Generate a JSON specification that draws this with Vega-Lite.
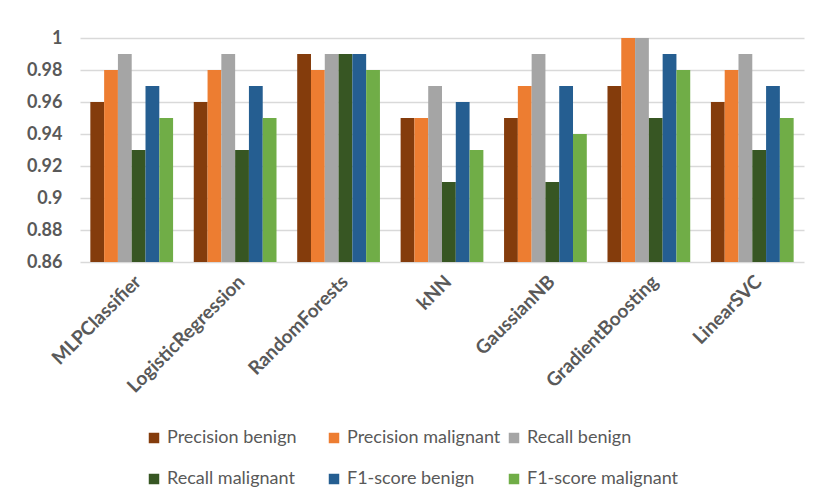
{
  "$schema": "https://vega.github.io/schema/vega-lite/v6.json",
  "width": 724,
  "height": 224,
  "autosize": {"type": "none"},
  "padding": {"left": 80, "top": 38, "right": 13, "bottom": 235},
  "background": "white",
  "config": {
    "view": {"stroke": null},
    "font": "Lato"
  },
  "data": {
    "values": [
      {"model": "MLPClassifier", "metric": "Precision benign", "value": 0.96},
      {"model": "MLPClassifier", "metric": "Precision malignant", "value": 0.98},
      {"model": "MLPClassifier", "metric": "Recall benign", "value": 0.99},
      {"model": "MLPClassifier", "metric": "Recall malignant", "value": 0.93},
      {"model": "MLPClassifier", "metric": "F1-score benign", "value": 0.97},
      {"model": "MLPClassifier", "metric": "F1-score malignant", "value": 0.95},
      {"model": "LogisticRegression", "metric": "Precision benign", "value": 0.96},
      {"model": "LogisticRegression", "metric": "Precision malignant", "value": 0.98},
      {"model": "LogisticRegression", "metric": "Recall benign", "value": 0.99},
      {"model": "LogisticRegression", "metric": "Recall malignant", "value": 0.93},
      {"model": "LogisticRegression", "metric": "F1-score benign", "value": 0.97},
      {"model": "LogisticRegression", "metric": "F1-score malignant", "value": 0.95},
      {"model": "RandomForests", "metric": "Precision benign", "value": 0.99},
      {"model": "RandomForests", "metric": "Precision malignant", "value": 0.98},
      {"model": "RandomForests", "metric": "Recall benign", "value": 0.99},
      {"model": "RandomForests", "metric": "Recall malignant", "value": 0.99},
      {"model": "RandomForests", "metric": "F1-score benign", "value": 0.99},
      {"model": "RandomForests", "metric": "F1-score malignant", "value": 0.98},
      {"model": "kNN", "metric": "Precision benign", "value": 0.95},
      {"model": "kNN", "metric": "Precision malignant", "value": 0.95},
      {"model": "kNN", "metric": "Recall benign", "value": 0.97},
      {"model": "kNN", "metric": "Recall malignant", "value": 0.91},
      {"model": "kNN", "metric": "F1-score benign", "value": 0.96},
      {"model": "kNN", "metric": "F1-score malignant", "value": 0.93},
      {"model": "GaussianNB", "metric": "Precision benign", "value": 0.95},
      {"model": "GaussianNB", "metric": "Precision malignant", "value": 0.97},
      {"model": "GaussianNB", "metric": "Recall benign", "value": 0.99},
      {"model": "GaussianNB", "metric": "Recall malignant", "value": 0.91},
      {"model": "GaussianNB", "metric": "F1-score benign", "value": 0.97},
      {"model": "GaussianNB", "metric": "F1-score malignant", "value": 0.94},
      {"model": "GradientBoosting", "metric": "Precision benign", "value": 0.97},
      {"model": "GradientBoosting", "metric": "Precision malignant", "value": 1.0},
      {"model": "GradientBoosting", "metric": "Recall benign", "value": 1.0},
      {"model": "GradientBoosting", "metric": "Recall malignant", "value": 0.95},
      {"model": "GradientBoosting", "metric": "F1-score benign", "value": 0.99},
      {"model": "GradientBoosting", "metric": "F1-score malignant", "value": 0.98},
      {"model": "LinearSVC", "metric": "Precision benign", "value": 0.96},
      {"model": "LinearSVC", "metric": "Precision malignant", "value": 0.98},
      {"model": "LinearSVC", "metric": "Recall benign", "value": 0.99},
      {"model": "LinearSVC", "metric": "Recall malignant", "value": 0.93},
      {"model": "LinearSVC", "metric": "F1-score benign", "value": 0.97},
      {"model": "LinearSVC", "metric": "F1-score malignant", "value": 0.95}
    ]
  },
  "mark": {"type": "bar", "clip": true},
  "encoding": {
    "x": {
      "field": "model",
      "type": "nominal",
      "sort": null,
      "scale": {"paddingInner": 0.2, "paddingOuter": 0.1},
      "axis": {
        "title": null,
        "labelAngle": -45,
        "labelFontSize": 19,
        "labelFontWeight": "bold",
        "labelColor": "#595959",
        "domain": false,
        "ticks": false,
        "labelPadding": 10
      }
    },
    "xOffset": {
      "field": "metric",
      "type": "nominal",
      "sort": ["Precision benign", "Precision malignant", "Recall benign", "Recall malignant", "F1-score benign", "F1-score malignant"],
      "scale": {"paddingInner": 0, "paddingOuter": 0}
    },
    "y": {
      "field": "value",
      "type": "quantitative",
      "scale": {"domain": [0.86, 1], "zero": false, "nice": false},
      "axis": {
        "title": null,
        "values": [0.86, 0.88, 0.9, 0.92, 0.94, 0.96, 0.98, 1],
        "format": ".2~f",
        "labelFontSize": 18,
        "labelFontWeight": "bold",
        "labelColor": "#595959",
        "domain": false,
        "ticks": false,
        "labelPadding": 18,
        "gridColor": "#D9D9D9",
        "gridWidth": 1.5
      }
    },
    "color": {
      "field": "metric",
      "type": "nominal",
      "sort": ["Precision benign", "Precision malignant", "Recall benign", "Recall malignant", "F1-score benign", "F1-score malignant"],
      "scale": {
        "domain": ["Precision benign", "Precision malignant", "Recall benign", "Recall malignant", "F1-score benign", "F1-score malignant"],
        "range": ["#843C0C", "#ED7D31", "#A5A5A5", "#375623", "#255E91", "#70AD47"]
      },
      "legend": {
        "title": null,
        "orient": "none",
        "legendX": 65,
        "legendY": 391,
        "direction": "horizontal",
        "columns": 3,
        "gridAlign": "all",
        "columnPadding": 4,
        "rowPadding": 23,
        "symbolType": "square",
        "symbolSize": 110,
        "symbolStrokeWidth": 0,
        "labelFontSize": 18,
        "labelColor": "#595959",
        "labelOffset": 4,
        "labelLimit": 300
      }
    }
  }
}
